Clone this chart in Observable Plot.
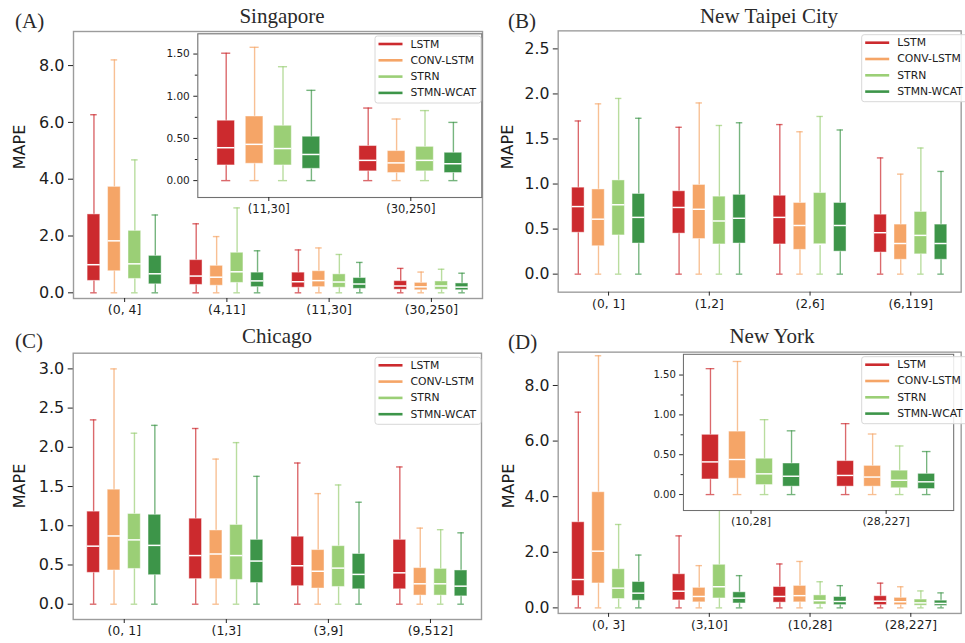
<!DOCTYPE html>
<html><head><meta charset="utf-8">
<script src="https://cdn.jsdelivr.net/npm/d3@7"></script>
<script src="https://cdn.jsdelivr.net/npm/@observablehq/plot@0.6"></script>
<style>
html,body{margin:0;padding:0;background:#fff;}
body{width:965px;height:643px;overflow:hidden;position:relative;font-family:"DejaVu Sans",sans-serif;}
.pl{position:absolute;}
.pl svg{overflow:visible;}
#overlay{position:absolute;left:0;top:0;pointer-events:none;}
</style></head>
<body>
<script>
const models = ["LSTM","CONV-LSTM","STRN","STMN-WCAT"];
const modelColors = ["#cc2a2e","#f5a567","#9bcf76","#3d9549"];

// (A) Singapore — rows: categories, columns: models
const sgCats = ["(0, 4]","(4,11]","(11,30]","(30,250]"];
const sgMin = [[0,0,0,0],[0,0,0,0],[0,0,0,0],[0,0,0,0]];
const sgQ1  = [[0.42,0.76,0.49,0.30],[0.28,0.25,0.35,0.20],[0.18,0.20,0.18,0.14],[0.11,0.09,0.11,0.09]];
const sgMed = [[0.99,1.83,1.02,0.67],[0.59,0.55,0.74,0.42],[0.39,0.43,0.38,0.31],[0.24,0.21,0.24,0.20]];
const sgQ3  = [[2.76,3.73,2.18,1.30],[1.15,0.95,1.41,0.71],[0.71,0.76,0.65,0.52],[0.41,0.35,0.40,0.33]];
const sgMax = [[6.27,8.20,4.68,2.74],[2.43,1.98,2.99,1.48],[1.51,1.58,1.35,1.07],[0.86,0.73,0.83,0.69]];

// (B) New Taipei City
const ntCats = ["(0, 1]","(1,2]","(2,6]","(6,119]"];
const ntMin = [[0,0,0,0],[0,0,0,0],[0,0,0,0],[0,0,0,0]];
const ntQ1  = [[0.46,0.31,0.43,0.34],[0.45,0.39,0.33,0.34],[0.33,0.27,0.33,0.25],[0.24,0.16,0.22,0.16]];
const ntMed = [[0.75,0.61,0.77,0.63],[0.74,0.72,0.59,0.62],[0.63,0.54,0.33,0.54],[0.46,0.34,0.43,0.34]];
const ntQ3  = [[0.96,0.94,1.04,0.89],[0.92,0.99,0.86,0.88],[0.87,0.79,0.90,0.79],[0.66,0.55,0.69,0.55]];
const ntMax = [[1.70,1.89,1.95,1.73],[1.63,1.90,1.65,1.68],[1.66,1.58,1.75,1.60],[1.29,1.11,1.40,1.14]];

// (C) Chicago
const chCats = ["(0, 1]","(1,3]","(3,9]","(9,512]"];
const chMin = [[0,0,0,0],[0,0,0,0],[0,0,0,0],[0,0,0,0]];
const chQ1  = [[0.40,0.43,0.45,0.37],[0.32,0.32,0.31,0.27],[0.23,0.20,0.22,0.19],[0.19,0.11,0.11,0.10]];
const chMed = [[0.74,0.87,0.82,0.75],[0.62,0.64,0.62,0.55],[0.49,0.42,0.46,0.38],[0.40,0.26,0.26,0.23]];
const chQ3  = [[1.18,1.46,1.15,1.14],[1.09,0.94,1.01,0.82],[0.86,0.69,0.74,0.64],[0.82,0.46,0.45,0.43]];
const chMax = [[2.35,3.00,2.18,2.28],[2.24,1.85,2.06,1.63],[1.80,1.41,1.52,1.30],[1.75,0.97,0.95,0.91]];

// (D) New York
const nyCats = ["(0, 3]","(3,10]","(10,28]","(28,227]"];
const nyMin = [[0,0,0,0],[0,0,0,0],[0,0,0,0],[0,0,0,0]];
const nyQ1  = [[0.43,0.88,0.32,0.26],[0.27,0.20,0.34,0.16],[0.19,0.20,0.12,0.10],[0.10,0.10,0.08,0.07]];
const nyMed = [[1.02,2.04,0.71,0.53],[0.60,0.41,0.76,0.35],[0.41,0.44,0.26,0.23],[0.24,0.22,0.18,0.16]];
const nyQ3  = [[3.08,4.16,1.39,0.93],[1.21,0.72,1.55,0.56],[0.75,0.79,0.45,0.39],[0.42,0.36,0.30,0.26]];
const nyMax = [[7.04,9.07,3.00,1.90],[2.59,1.52,3.60,1.16],[1.58,1.67,0.94,0.80],[0.89,0.76,0.61,0.54]];

const titles = ["Singapore","New Taipei City","Chicago","New York"];
const panelLetters = ["(A)","(B)","(C)","(D)"];
const yLabel = "MAPE";

const mainTicks8 = [0,2,4,6,8];
const ticksB = [0,0.5,1,1.5,2,2.5];
const ticksC = [0,0.5,1,1.5,2,2.5,3];
const insetTicks = [0,0.5,1,1.5];
const insetMinor = [0.25,0.75,1.25];

function boxPanel(o) {
  const data = [];
  o.groups.forEach((g, i) => models.forEach((m, j) => data.push({
    pos: i + (j - 1.5) * 0.2, model: m,
    lo: o.min[g][j], q1: o.q1[g][j], med: o.med[g][j], q3: o.q3[g][j], hi: o.max[g][j]
  })));
  const bw = 0.062, cw = 0.032;
  const whisk = {stroke: "model", strokeOpacity: 0.7, strokeWidth: 1.4};
  const plot = Plot.plot({
    width: o.width, height: o.height,
    marginTop: o.m[0], marginRight: o.m[1], marginBottom: o.m[2], marginLeft: o.m[3],
    x: {domain: [-0.5, o.groups.length - 0.5], axis: null},
    y: {domain: o.yDomain, axis: null},
    color: {domain: models, range: modelColors},
    style: {fontFamily: "DejaVu Sans", color: "#1c1c1c", background: "transparent"},
    marks: [
      o.inset ? Plot.frame({fill: "white", stroke: null}) : null,
      Plot.ruleX(data, {x: "pos", y1: "lo", y2: "hi", ...whisk}),
      Plot.ruleY(data, {y: "lo", x1: d => d.pos - cw, x2: d => d.pos + cw, ...whisk}),
      Plot.ruleY(data, {y: "hi", x1: d => d.pos - cw, x2: d => d.pos + cw, ...whisk}),
      Plot.rect(data, {x1: d => d.pos - bw, x2: d => d.pos + bw, y1: "q1", y2: "q3", fill: "model", stroke: "white", strokeOpacity: 0.45, strokeWidth: 1}),
      Plot.ruleY(data, {y: "med", x1: d => d.pos - bw, x2: d => d.pos + bw, stroke: "white", strokeWidth: 1.5}),
      Plot.frame(o.inset ? {stroke: "#707070", strokeWidth: 1.1} : {stroke: "#9c9c9c", strokeWidth: 1.4}),
      Plot.axisY({ticks: o.yTicks, tickFormat: d => d.toFixed(o.yDec), tickSize: o.inset ? 4 : 5, tickPadding: 4, fontSize: o.yFont, label: null, stroke: "#222"}),
      o.yMinor ? Plot.axisY({ticks: o.yMinor, tickFormat: () => "", tickSize: 2.5, label: null, stroke: "#222"}) : null,
      Plot.axisX({ticks: o.groups.map((g, i) => i), tickFormat: i => o.cats[o.groups[i]], tickSize: 4, tickPadding: 3, fontSize: o.xFont, label: null, stroke: "#222"})
    ]
  });
  const div = document.createElement("div");
  div.className = "pl";
  div.style.left = o.left + "px";
  div.style.top = o.top + "px";
  div.appendChild(plot);
  document.body.appendChild(div);
}

// main panels
boxPanel({cats: sgCats, groups: [0,1,2,3], min: sgMin, q1: sgQ1, med: sgMed, q3: sgQ3, max: sgMax,
  left: 0, top: 0, width: 485, height: 320, m: [31, 3, 22, 73],
  yDomain: [-0.2, 9.2], yTicks: mainTicks8, yDec: 1, yFont: 16, xFont: 12.5});
boxPanel({cats: ntCats, groups: [0,1,2,3], min: ntMin, q1: ntQ1, med: ntMed, q3: ntQ3, max: ntMax,
  left: 480, top: 0, width: 495, height: 320, m: [31, 4.4, 22.3, 79.3],
  yDomain: [-0.2, 2.7], yTicks: ticksB, yDec: 1, yFont: 16, xFont: 12.5});
boxPanel({cats: chCats, groups: [0,1,2,3], min: chMin, q1: chQ1, med: chMed, q3: chQ3, max: chMax,
  left: 0, top: 320, width: 485, height: 323, m: [32.7, 4, 24, 72.7],
  yDomain: [-0.195, 3.2], yTicks: ticksC, yDec: 1, yFont: 16, xFont: 12.5});
boxPanel({cats: nyCats, groups: [0,1,2,3], min: nyMin, q1: nyQ1, med: nyMed, q3: nyQ3, max: nyMax,
  left: 480, top: 320, width: 495, height: 323, m: [32.3, 4.4, 24, 79.3],
  yDomain: [-0.2, 9.2], yTicks: mainTicks8, yDec: 1, yFont: 16, xFont: 12.5});

// insets
boxPanel({cats: sgCats, groups: [2,3], min: sgMin, q1: sgQ1, med: sgMed, q3: sgQ3, max: sgMax, inset: true,
  left: 140, top: 30, width: 345, height: 190, m: [3.3, 3.7, 23, 57.3],
  yDomain: [-0.2, 1.74], yTicks: insetTicks, yMinor: insetMinor, yDec: 2, yFont: 10.5, xFont: 11.5});
boxPanel({cats: nyCats, groups: [2,3], min: nyMin, q1: nyQ1, med: nyMed, q3: nyQ3, max: nyMax, inset: true,
  left: 620, top: 350, width: 360, height: 190, m: [4, 12.3, 23, 65.7],
  yDomain: [-0.2, 1.76], yTicks: insetTicks, yMinor: insetMinor, yDec: 2, yFont: 10.5, xFont: 11.5});

// overlay: titles, panel letters, y labels, legends
const svg = d3.select("body").append("svg").attr("id", "overlay").attr("width", 965).attr("height", 643);
const titlePos = [[282, 22.7], [769, 22.7], [277, 342.7], [772, 342.7]];
const letterPos = [[15, 28], [508, 28], [15, 348], [508, 349]];
const labelPos = [[19, 147], [507.5, 147], [19, 486], [508.5, 486]];
const legendPos = [[375, 36, 106], [861.7, 34.7, 110], [375, 357.3, 106], [861.7, 356.7, 110]];

titles.forEach((t, i) => {
  svg.append("text").attr("x", titlePos[i][0]).attr("y", titlePos[i][1])
    .attr("text-anchor", "middle").attr("font-family", "Liberation Serif").attr("font-size", 21).attr("fill", "#2a2a2a").text(t);
  svg.append("text").attr("x", letterPos[i][0]).attr("y", letterPos[i][1])
    .attr("font-family", "Liberation Serif").attr("font-size", 21).attr("fill", "#2a2a2a").text(panelLetters[i]);
  svg.append("text").attr("transform", `translate(${labelPos[i][0]},${labelPos[i][1]}) rotate(-90)`)
    .attr("text-anchor", "middle").attr("dominant-baseline", "central")
    .attr("font-family", "DejaVu Sans").attr("font-size", 16).attr("fill", "#1c1c1c").text(yLabel);
  const [lx, ly, lw] = legendPos[i];
  const g = svg.append("g").attr("transform", `translate(${lx},${ly})`);
  g.append("rect").attr("width", lw).attr("height", 67).attr("rx", 2.5)
    .attr("fill", "white").attr("fill-opacity", 0.85).attr("stroke", "#d8d8d8").attr("stroke-width", 1);
  models.forEach((m, j) => {
    const yy = 8 + j * 16.3;
    g.append("line").attr("x1", 3.5).attr("x2", 27.5).attr("y1", yy).attr("y2", yy)
      .attr("stroke", modelColors[j]).attr("stroke-width", 2.6);
    g.append("text").attr("x", 35.5).attr("y", yy).attr("dominant-baseline", "central")
      .attr("font-family", "DejaVu Sans").attr("font-size", 10.8).attr("fill", "#1c1c1c").text(m);
  });
});
</script>
</body></html>
